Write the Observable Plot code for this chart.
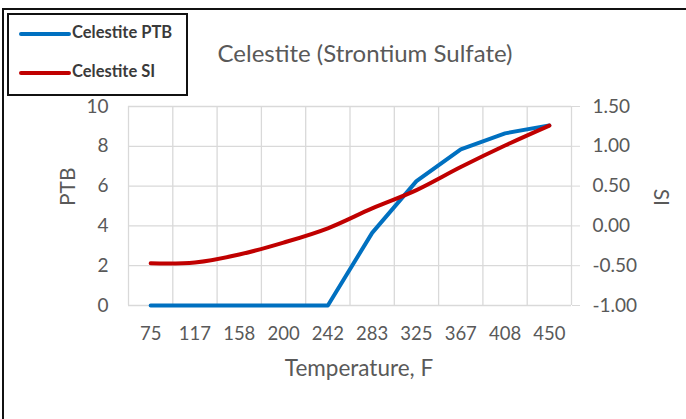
<!DOCTYPE html>
<html>
<head>
<meta charset="utf-8">
<script src="https://cdn.jsdelivr.net/npm/d3@7"></script>
<script src="https://cdn.jsdelivr.net/npm/@observablehq/plot@0.6"></script>
<style>
  html, body { margin: 0; padding: 0; background: #fff; }
  #wrap { position: relative; width: 686px; height: 419px; overflow: hidden; font-family: Lato, "Open Sans", sans-serif; }
  #frameTop { position: absolute; left: 2px; top: 8px; width: 684px; height: 2px; background: #111; }
  #frameLeft { position: absolute; left: 2px; top: 8px; width: 2px; height: 411px; background: #111; }
  #legend { position: absolute; left: 7px; top: 13px; width: 177px; height: 79px; border: 2px solid #111; background: #fff; }
  .lg { position: absolute; left: 0; font-weight: bold; font-size: 16.5px; color: #3a3a3a; white-space: nowrap; }
  .lg span.sw { display: inline-block; width: 52px; height: 4px; border-radius: 2px; vertical-align: middle; margin-left: 10px; margin-right: 1px; }
  #title { position: absolute; left: 0; width: 730px; top: 38px; text-align: center; font-size: 24px; color: #595959; }
  #chart { position: absolute; left: 0; top: 0; }
</style>
</head>
<body>
<div id="wrap">
  <div id="chart"></div>
  <div id="frameTop"></div>
  <div id="frameLeft"></div>
  <div id="title">Celestite (Strontium Sulfate)</div>
  <div id="legend"></div>
</div>
<script>
// Temperature categories (x tick labels)
const temperatures = ["75", "117", "158", "200", "242", "283", "325", "367", "408", "450"];
// Celestite PTB (left axis)
const ptbValues = [0, 0, 0, 0, 0, 3.65, 6.25, 7.85, 8.65, 9.05];
// Celestite SI (right axis)
const siValues = [-0.47, -0.46, -0.36, -0.21, -0.03, 0.22, 0.45, 0.74, 1.01, 1.26];
// Axis ticks
const ptbTicks = [0, 2, 4, 6, 8, 10];
const siTicks = [-1.00, -0.50, 0.00, 0.50, 1.00, 1.50];

const series = [
  { name: "Celestite PTB", color: "#0070C0" },
  { name: "Celestite SI", color: "#C00000" }
];

// map SI onto the PTB scale (SI -1..1.5 <-> PTB 0..10)
const siToPtb = s => (s + 1) * 4;
const ptbToSi = p => p / 4 - 1;

const ptbData = temperatures.map((t, i) => ({ i, v: ptbValues[i] }));
const siData = temperatures.map((t, i) => ({ i, v: siToPtb(siValues[i]) }));
const boundaries = d3.range(temperatures.length + 1).map(k => k - 0.5);

const chart = Plot.plot({
  width: 686,
  height: 419,
  marginLeft: 128,
  marginRight: 115,
  marginTop: 106,
  marginBottom: 114,
  style: { fontFamily: "Lato, 'Open Sans', sans-serif", background: "transparent", color: "#595959" },
  x: { type: "linear", domain: [-0.5, temperatures.length - 0.5] },
  y: { domain: [0, 10] },
  marks: [
    Plot.ruleX(boundaries, { stroke: "#d9d9d9", strokeWidth: 1.3 }),
    Plot.ruleY(ptbTicks, { stroke: "#d9d9d9", strokeWidth: 1.3 }),
    Plot.axisX(d3.range(temperatures.length), {
      tickSize: 0, tickPadding: 21, fontSize: 18.5, fill: "#595959",
      tickFormat: i => temperatures[i],
      label: null
    }),
    Plot.axisY(ptbTicks, {
      anchor: "left", tickSize: 0, tickPadding: 20, fontSize: 19, fill: "#595959", label: null
    }),
    Plot.axisY(siTicks.map(siToPtb), {
      anchor: "right", tickSize: 8, stroke: "#d9d9d9", tickPadding: 13, fontSize: 19, fill: "#595959",
      tickFormat: p => ptbToSi(p).toFixed(2), label: null
    }),
    Plot.text(["Temperature, F"], { frameAnchor: "bottom", dy: 70, dx: 9, fontSize: 22.5, fill: "#595959" }),
    Plot.text(["PTB"], { frameAnchor: "left", dx: -60, rotate: -90, fontSize: 21, fill: "#595959" }),
    Plot.text(["SI"], { frameAnchor: "right", dx: 89, rotate: 90, fontSize: 21, fill: "#595959" }),
    Plot.line(ptbData, { x: "i", y: "v", stroke: series[0].color, strokeWidth: 4, curve: "linear" }),
    Plot.line(siData, { x: "i", y: "v", stroke: series[1].color, strokeWidth: 4, curve: "catmull-rom" })
  ]
});
document.getElementById("chart").appendChild(chart);

const legend = document.getElementById("legend");
series.forEach((s, k) => {
  const div = document.createElement("div");
  div.className = "lg";
  div.style.top = (k === 0 ? 7 : 46) + "px";
  div.innerHTML = `<span class="sw" style="background:${s.color}"></span>${s.name}`;
  legend.appendChild(div);
});
</script>
</body>
</html>
